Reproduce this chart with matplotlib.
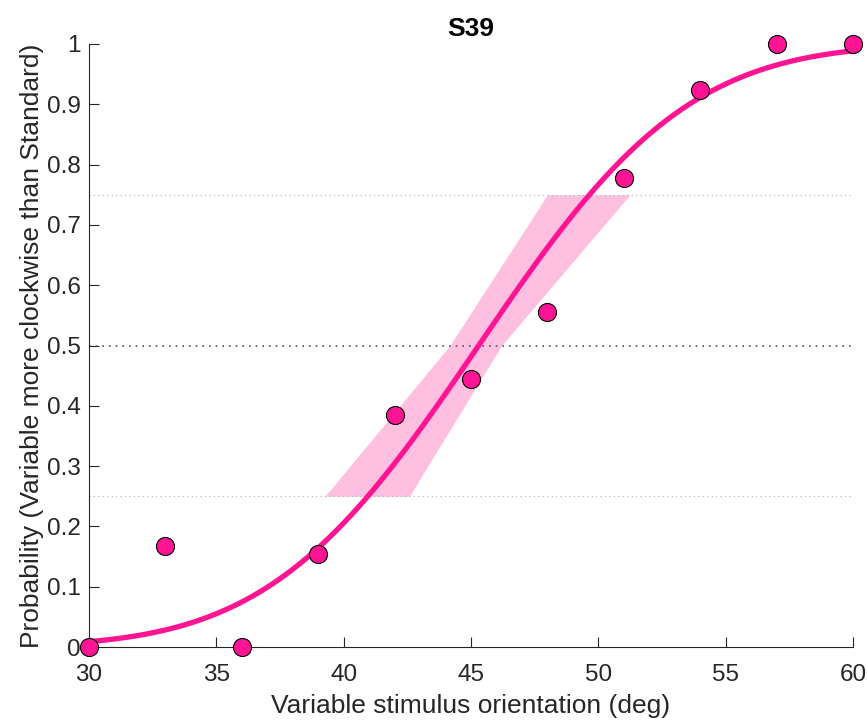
import numpy as np
import matplotlib
matplotlib.use("Agg")
import matplotlib.pyplot as plt
from math import erf

# measured proportions
orientation = [30, 33, 36, 39, 42, 45, 48, 51, 54, 57, 60]
p_clockwise = [0.0, 0.167, 0.0, 0.154, 0.385, 0.444, 0.556, 0.778, 0.923, 1.0, 1.0]

# fitted cumulative gaussian
fit_mu = 45.3
fit_sigma = 6.45

# confidence band of the 25/50/75 % points
band_p = [0.25, 0.5, 0.75]
band_lo = [39.27, 44.17, 48.0]
band_hi = [42.58, 46.2, 51.24]

pink = "#FF1493"
grey = "#262626"

plt.rcParams['font.family'] = ['Liberation Sans', 'DejaVu Sans']

fig = plt.figure(figsize=(8.68, 7.22), dpi=100)
ax = fig.add_axes([89 / 868, 1 - 647 / 722, (853 - 89) / 868, (647 - 44) / 722])

ax.fill_betweenx(band_p, band_lo, band_hi, color=pink, alpha=0.27, lw=0)

ax.axhline(0.25, color="#b0b0b0", ls=(0, (1, 3)), lw=0.8)
ax.axhline(0.75, color="#b0b0b0", ls=(0, (1, 3)), lw=0.8)
ax.axhline(0.5, color="#555555", ls=(0, (1, 3)), lw=1.2)

xs = np.linspace(30, 60, 300)
ys = [0.5 * (1 + erf((v - fit_mu) / (fit_sigma * np.sqrt(2)))) for v in xs]
ax.plot(xs, ys, color=pink, lw=3.8, solid_capstyle="butt")

ax.plot(orientation, p_clockwise, "o", ms=13, mfc=pink, mec="black",
        mew=0.8, clip_on=False, zorder=5)

ax.set_xlim(30, 60)
ax.set_ylim(0, 1)
ax.set_xticks(range(30, 61, 5))
ax.set_yticks(np.arange(0, 1.01, 0.1))
ax.set_yticklabels(["0", "0.1", "0.2", "0.3", "0.4", "0.5", "0.6", "0.7",
                    "0.8", "0.9", "1"])
for s in ["top", "right"]:
    ax.spines[s].set_visible(False)
for s in ["left", "bottom"]:
    ax.spines[s].set_color(grey)
    ax.spines[s].set_linewidth(0.8)
ax.tick_params(direction="in", length=7, width=0.8, colors=grey,
               labelsize=17.5, pad=6)
ax.tick_params(axis="x", pad=12)

ax.set_xlabel("Variable stimulus orientation (deg)", fontsize=19, color=grey,
              labelpad=6)
ax.set_ylabel("Probability (Variable more clockwise than Standard)",
              fontsize=19, color=grey, labelpad=2)
ax.set_title("S39", fontsize=19, fontweight="bold", pad=6)

fig.savefig("out.png", dpi=100)
